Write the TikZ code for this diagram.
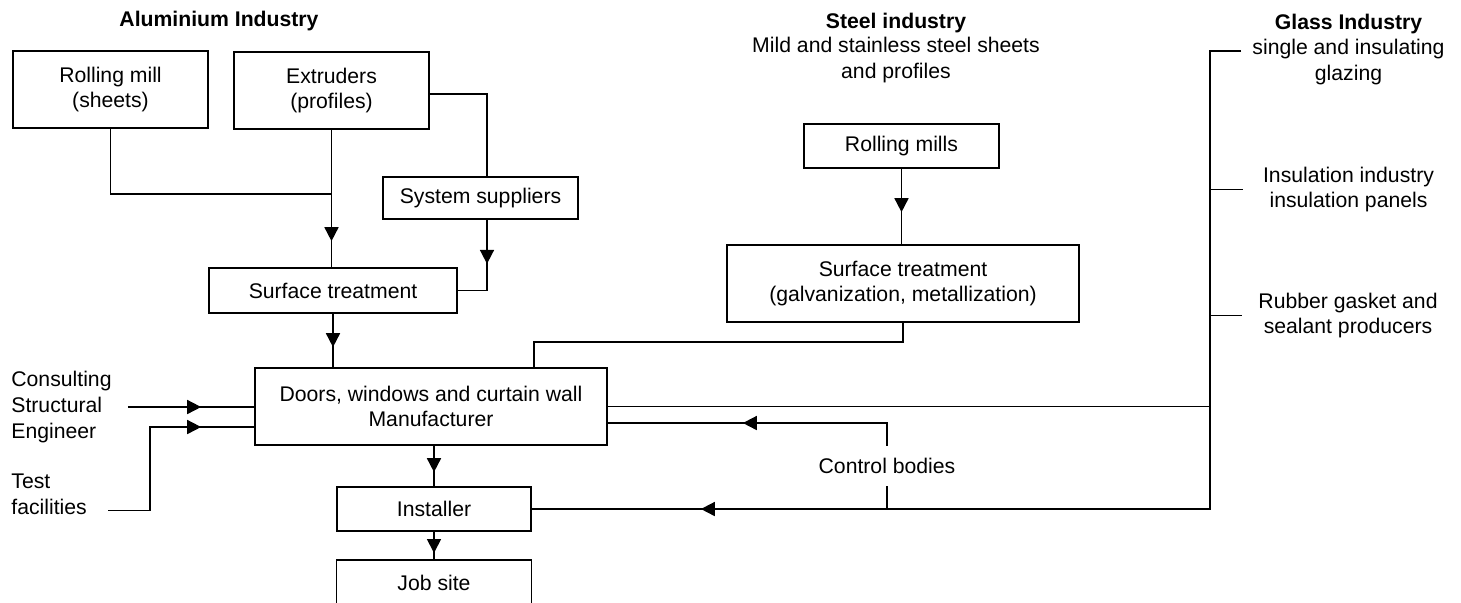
\documentclass[tikz,border=0pt]{standalone}
\usepackage{fontspec}
\setmainfont{Liberation Sans}
\usetikzlibrary{arrows.meta, decorations.markings}

\begin{document}
\begin{tikzpicture}[
  x=0.5pt, y=-0.5pt,
  font=\fontsize{10.6pt}{12.8pt}\selectfont,
  box/.style={draw, line width=0.85pt, inner sep=2pt, align=center},
  lab/.style={inner sep=0pt, align=center},
  head/.style={inner sep=0pt, font=\fontsize{10.6pt}{12.8pt}\selectfont\bfseries},
  conn/.style={line width=0.85pt},
  midtip/.style={line width=0.85pt, postaction={decorate},
    decoration={markings, mark=at position #1 with {\arrow{Triangle[length=7pt, width=7pt]}}}},
]
  \clip (0,0) rectangle (1461,602);

  % aluminium industry
  \node[head] (alhead) at (219,21) {Aluminium Industry};
  \node[box, minimum width=97.5pt, minimum height=38.5pt] (rollmill) at (110.5,89.5) {Rolling mill\\(sheets)};
  \node[box, minimum width=97.5pt, minimum height=38.5pt] (extruders) at (331.5,90.5) {Extruders\\(profiles)};
  \node[box, minimum width=97.5pt, minimum height=21pt] (syssup) at (480.5,198) {System suppliers};
  \node[box, minimum width=124pt, minimum height=22.5pt] (alsurf) at (333,290.5) {Surface treatment};

  % manufacturer and site
  \node[box, minimum width=176pt, minimum height=38.5pt] (doors) at (431,406.5) {Doors, windows and curtain wall\\Manufacturer};
  \node[box, minimum width=97pt, minimum height=22pt] (installer) at (434,509) {Installer};
  \node[box, minimum width=97.5pt, minimum height=23pt, anchor=north] (jobsite) at (434,559) {Job site};
  \node[lab, align=left, anchor=west] (consult) at (11,407) {Consulting\\Structural\\Engineer};
  \node[lab, align=left, anchor=west] (testfac) at (11,494.5) {Test\\facilities};
  \node[lab, minimum height=20pt] (ctrl) at (887,466) {Control bodies};

  % steel industry
  \node[head] (sthead) at (896,23) {Steel industry};
  \node[lab] (stsub) at (896,60) {Mild and stainless steel sheets\\and profiles};
  \node[box, minimum width=97.5pt, minimum height=22pt] (stmills) at (901.5,146) {Rolling mills};
  \node[box, minimum width=176pt, minimum height=38.5pt] (stsurf) at (903,283.5) {Surface treatment\\(galvanization, metallization)};

  % glass and other suppliers
  \node[head] (glhead) at (1348.5,24) {Glass Industry};
  \node[lab] (glaze) at (1348.5,62) {single and insulating\\glazing};
  \node[lab] (insul) at (1348.5,189.5) {Insulation industry\\insulation panels};
  \node[lab] (rubber) at (1348,315.5) {Rubber gasket and\\sealant producers};
  \coordinate (gbus) at (1210,509);

  \draw[conn] (rollmill.south) |- (extruders.south |- 0,194);
  \draw[midtip=-13pt] (extruders.south) -- (extruders.south |- alsurf.north);
  \draw[conn] (extruders.east |- 0,94) -| ([xshift=3.25pt]syssup.north);
  \draw[midtip=22pt] ([xshift=3.25pt]syssup.south) |- (alsurf.east);
  \draw[midtip=-10pt] (alsurf.south) -- (alsurf.south |- doors.north);

  \draw[midtip=-26.5pt] ([xshift=8pt]consult.east) -- (doors.west |- consult.east);
  \draw[midtip=-26.5pt] ([xshift=10.5pt,yshift=-8pt]testfac.east) -- ++(42,0) |- (doors.west |- 0,427);
  \draw[midtip=-7pt] (installer.north |- doors.south) -- (installer.north);
  \draw[midtip=-3pt] (installer.south) -- (jobsite.north);

  \draw[midtip=-16pt] (stmills.south) -- (stmills.south |- stsurf.north);
  \draw[conn] (stsurf.south) -- ++(0,19) -| ([xshift=51.5pt]doors.north);

  \draw[midtip=-84.5pt] ([xshift=-5.5pt,yshift=5.5pt]glaze.west) -| (gbus) -- (installer.east);
  \draw[conn] (gbus |- insul.west) -- ([xshift=-10pt]insul.west);
  \draw[conn] (gbus |- rubber.west) -- ([xshift=-8pt]rubber.west);
  \draw[conn] (doors.east) -- (gbus |- doors.east);
  \draw[midtip=-67.5pt] (ctrl.north) |- (doors.east |- 0,423);
  \draw[conn] (ctrl.south) -- (ctrl.south |- gbus);
\end{tikzpicture}
\end{document}
